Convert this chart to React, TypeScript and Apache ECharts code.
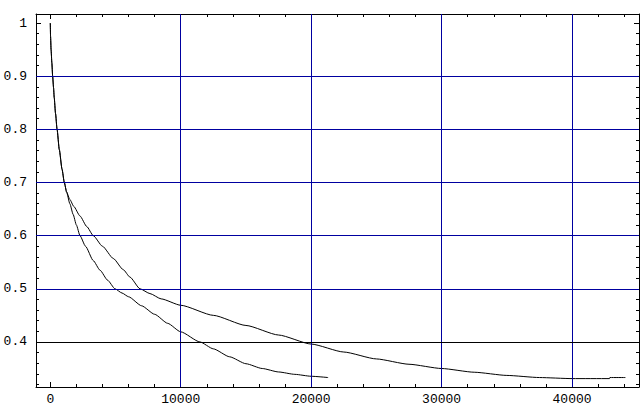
import React, { useEffect, useRef } from "react";
import * as echarts from "echarts";

// shared start of both curves
const commonX = [0, 20, 60, 120, 180, 250, 300, 400, 520, 690, 900, 1075, 1250];
const commonY = [1.0, 0.975, 0.95, 0.925, 0.9, 0.878, 0.86, 0.83, 0.8, 0.762, 0.725, 0.7, 0.682];

// longer curve (upper branch)
const upperX = [1500, 1800, 2276, 2800, 3295, 4000, 4830, 5594, 6107, 6877, 7640, 8500, 10000, 12500, 15000, 17500, 20000, 22500, 25000, 27500, 30000, 32500, 35000, 37500, 40000, 42870, 42900, 44090];
const upperY = [0.668, 0.655, 0.637, 0.617, 0.6, 0.58, 0.557, 0.536, 0.522, 0.5, 0.491, 0.481, 0.469, 0.45, 0.431, 0.413, 0.396, 0.381, 0.368, 0.358, 0.35, 0.343, 0.337, 0.333, 0.331, 0.331, 0.333, 0.333];

// shorter curve (lower branch)
const lowerX = [1500, 1750, 2000, 2276, 2700, 3295, 3810, 4400, 4958, 5500, 6000, 7000, 8000, 9000, 10000, 11470, 12500, 13750, 15000, 16250, 17500, 18750, 20000, 21300];
const lowerY = [0.66, 0.64, 0.62, 0.6, 0.58, 0.553, 0.535, 0.516, 0.5, 0.492, 0.485, 0.468, 0.452, 0.435, 0.419, 0.4, 0.387, 0.372, 0.359, 0.35, 0.3435, 0.339, 0.3354, 0.333];

const xMinorTicks = [0, 2000, 4000, 6000, 8000, 10000, 12000, 14000, 16000, 18000, 20000, 22000, 24000, 26000, 28000, 30000, 32000, 34000, 36000, 38000, 40000, 42000, 44000];
const xMajorTicks = [0, 10000, 20000, 30000, 40000];
const yMinorTicks = [0.32, 0.34, 0.36, 0.38, 0.4, 0.42, 0.44, 0.46, 0.48, 0.5, 0.52, 0.54, 0.56, 0.58, 0.6, 0.62, 0.64, 0.66, 0.68, 0.7, 0.72, 0.74, 0.76, 0.78, 0.8, 0.82, 0.84, 0.86, 0.88, 0.9, 0.92, 0.94, 0.96, 0.98, 1.0];
const yMajorTicks = [0.4, 0.5, 0.6, 0.7, 0.8, 0.9, 1.0];

const xGridBlue = [10000, 20000, 30000, 40000];
const yGridBlue = [0.5, 0.6, 0.7, 0.8, 0.9];
const yGridBlack = [0.4];

const X_MIN = -1096;
const X_MAX = 45134;
const Y_MIN = 0.3152;
const Y_MAX = 1.017;

const NAVY = "#0000a0";
const FONT = "Liberation Mono";

export default function App() {
  const ref = useRef<HTMLDivElement>(null);
  useEffect(() => {
    if (!ref.current) return;
    const chart = echarts.init(ref.current, null, { renderer: "svg" });

    const upperData = commonX.map((x, i) => [x, commonY[i]]).concat(upperX.map((x, i) => [x, upperY[i]]));
    const lowerData = commonX.map((x, i) => [x, commonY[i]]).concat(lowerX.map((x, i) => [x, lowerY[i]]));

    const xAx = (pos: string, ticks: number[], len: number, labels: boolean, line: boolean) => ({
      type: "value",
      position: pos,
      min: X_MIN,
      max: X_MAX,
      axisLine: { show: line, onZero: false, lineStyle: { color: "#000", width: 1 } },
      axisTick: { show: true, inside: true, length: len, customValues: ticks, lineStyle: { color: "#000", width: 1 } },
      axisLabel: {
        show: labels,
        customValues: xMajorTicks,
        color: "#000",
        fontFamily: FONT,
        fontSize: 13,
        margin: 6,
        formatter: (v: number) => String(Math.round(v)),
      },
      splitLine: { show: false },
    });
    const yAx = (pos: string, ticks: number[], len: number, labels: boolean, line: boolean) => ({
      type: "value",
      position: pos,
      min: Y_MIN,
      max: Y_MAX,
      axisLine: { show: line, onZero: false, lineStyle: { color: "#000", width: 1 } },
      axisTick: { show: true, inside: true, length: len, customValues: ticks, lineStyle: { color: "#000", width: 1 } },
      axisLabel: {
        show: labels,
        customValues: yMajorTicks,
        color: "#000",
        fontFamily: FONT,
        fontSize: 13,
        margin: 9,
        formatter: (v: number) => (Math.abs(v - 1) < 1e-9 ? "1" : v.toFixed(1)),
      },
      splitLine: { show: false },
    });

    const curve = (data: number[][]) => ({
      type: "line",
      data,
      xAxisIndex: 0,
      yAxisIndex: 0,
      showSymbol: false,
      symbol: "none",
      smooth: 0.2,
      smoothMonotone: "x",
      lineStyle: { color: "#000", width: 1 },
    });

    chart.setOption({
      animation: false,
      backgroundColor: "#fff",
      grid: { left: 36, top: 14, width: 603, height: 373, containLabel: false },
      xAxis: [
        xAx("bottom", xMinorTicks, 3, true, true),
        xAx("bottom", xMajorTicks, 5, false, false),
        xAx("top", xMinorTicks, 3, false, true),
        xAx("top", xMajorTicks, 5, false, false),
      ],
      yAxis: [
        yAx("left", yMinorTicks, 3, true, true),
        yAx("left", yMajorTicks, 5, false, false),
        yAx("right", yMinorTicks, 3, false, true),
        yAx("right", yMajorTicks, 5, false, false),
      ],
      series: [
        {
          type: "line",
          data: [],
          xAxisIndex: 0,
          yAxisIndex: 0,
          silent: true,
          markLine: {
            silent: true,
            symbol: "none",
            label: { show: false },
            animation: false,
            data: [
              ...xGridBlue.map((v) => ({ xAxis: v, lineStyle: { color: NAVY, width: 1, type: "solid" } })),
              ...yGridBlue.map((v) => ({ yAxis: v, lineStyle: { color: NAVY, width: 1, type: "solid" } })),
              ...yGridBlack.map((v) => ({ yAxis: v, lineStyle: { color: "#000", width: 1, type: "solid" } })),
            ],
          },
        },
        curve(upperData),
        curve(lowerData),
      ],
    });
    return () => chart.dispose();
  }, []);
  return <div ref={ref} style={{ position: "fixed", left: 0, top: 0, width: 640, height: 409 }} />;
}
